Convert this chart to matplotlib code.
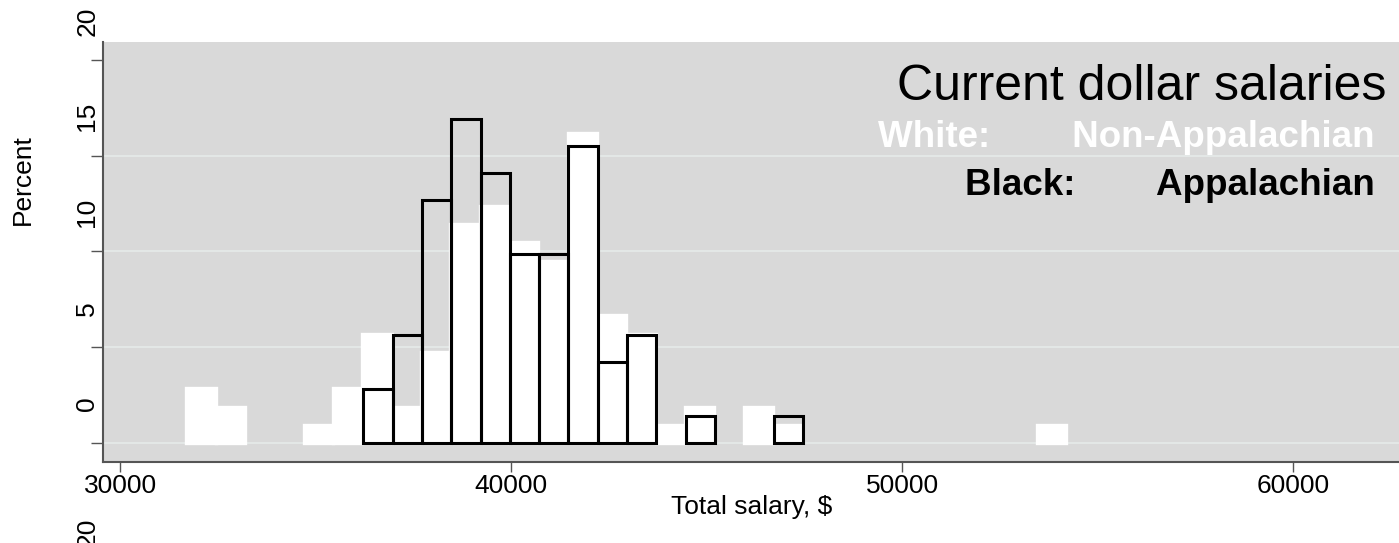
import numpy as np
import matplotlib.pyplot as plt
from matplotlib.transforms import ScaledTranslation

plt.rcParams['font.family'] = ['Liberation Sans', 'DejaVu Sans']

# both histograms use $750 bins
bin_width = 750
nonapp_start = 31690
app_start = 36210

# percent per bin
nonapp_pct = [2.86, 1.90, 0, 0, 0.95, 2.86, 5.71, 1.90, 4.76, 11.43,
              12.38, 10.48, 9.52, 16.19, 6.67, 5.71, 0.95, 1.90, 0, 1.90,
              0.95, 0, 0, 0, 0, 0, 0, 0, 0, 0.95]
app_pct = [2.82, 5.63, 12.68, 16.90, 14.08, 9.86, 9.86, 15.49, 4.23, 5.63,
           0, 1.41, 0, 0, 1.41]

xticks = [30000, 40000, 50000, 60000]
xticklabels = ['30000', '40000', '50000', '60000']
yticks = [0, 5, 10, 15, 20]
gridlines = [0, 5, 10, 15]

W, H = 1399, 543
fig = plt.figure(figsize=(W / 100, H / 100), dpi=100)
ax = fig.add_axes([103 / W, (H - 461.7) / H, 1 - 103 / W, (461.7 - 42.3) / H])
ax.set_facecolor('#d9d9d9')
ax.set_xlim(29555, 62701)
ax.set_ylim(-0.976, 20.92)

for g in gridlines:
    ax.axhline(g, color='#e6ebe9', lw=1.2, zorder=1)

nonapp = np.array(nonapp_pct)
app = np.array(app_pct)
nonapp_left = nonapp_start + bin_width * np.arange(len(nonapp))
app_left = app_start + bin_width * np.arange(len(app))

m = nonapp > 0
ax.bar(nonapp_left[m], nonapp[m], width=bin_width, align='edge',
       color='white', edgecolor='white', linewidth=2.4, zorder=2)
m = app > 0
ax.bar(app_left[m], app[m], width=bin_width, align='edge',
       fill=False, edgecolor='black', linewidth=2.2, zorder=3)

for s in ['top', 'right']:
    ax.spines[s].set_visible(False)
for s in ['left', 'bottom']:
    ax.spines[s].set_color('#555555')
    ax.spines[s].set_linewidth(1.5)

ax.set_xticks(xticks)
ax.set_xticklabels(xticklabels, fontsize=19)
ax.tick_params(axis='x', length=7, width=1, color='#555555', pad=2)
ax.set_yticks(yticks)
ax.tick_params(axis='y', length=8.6, width=1, color='#555555', labelleft=False)

# y labels sit shifted up from their ticks, as in the original
off = ax.get_yaxis_transform() + ScaledTranslation(0, 0.39, fig.dpi_scale_trans)
for t in yticks:
    ax.text(-0.0121, t, str(t), transform=off, rotation=90,
            ha='center', va='center', fontsize=19)

fig.text(23 / W, 1 - 180 / H, 'Percent', rotation=90, ha='center',
         va='center', fontsize=19)
fig.text(752 / W, 1 - 507 / H, 'Total salary, $', ha='center',
         va='center', fontsize=19)
# label of the next panel, cut off at the bottom edge
fig.text(88 / W, 1 - 518 / H, '20', rotation=90, ha='center', va='top',
         fontsize=19)

fig.text(1386 / W, 1 - 100 / H, 'Current dollar salaries', ha='right',
         va='baseline', fontsize=36)
fig.text(1375 / W, 1 - 147 / H, 'White:        Non-Appalachian', ha='right',
         va='baseline', fontsize=26.5, fontweight='bold', color='white')
fig.text(1375 / W, 1 - 195 / H, 'Black:        Appalachian', ha='right',
         va='baseline', fontsize=26.5, fontweight='bold', color='black')

fig.savefig('out.png', dpi=100)
